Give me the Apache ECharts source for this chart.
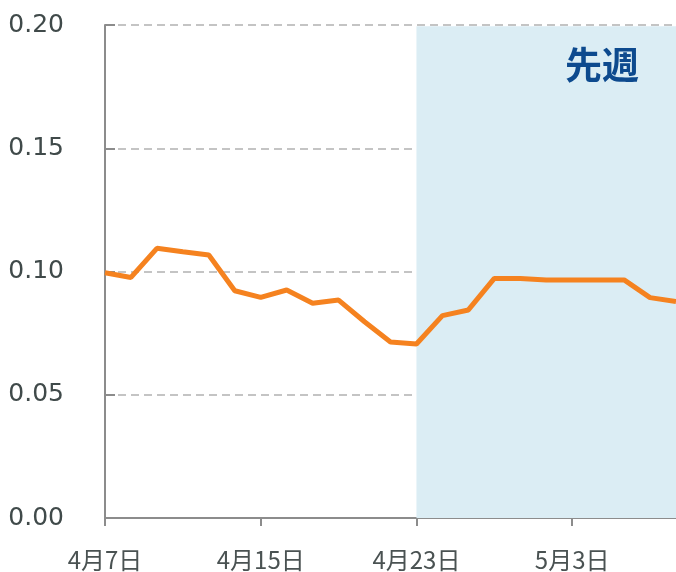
<!DOCTYPE html>
<html>
<head>
<meta charset="utf-8">
<script src="https://cdn.jsdelivr.net/npm/echarts@6/dist/echarts.min.js"></script>
<style>
html,body{margin:0;padding:0;background:#fff;}
#chart{width:676px;height:572px;}
</style>
</head>
<body>
<div id="chart"></div>
<script>
const categories = ['4月7日','4月8日','4月9日','4月10日','4月11日','4月14日','4月15日','4月16日','4月17日','4月18日','4月21日','4月22日','4月23日','4月24日','4月25日','4月28日','4月30日','5月1日','5月3日','5月6日','5月7日','5月8日','5月9日'];
const values = [0.0995,0.0976,0.1094,0.1080,0.1067,0.0922,0.0895,0.0925,0.0871,0.0884,0.0796,0.0714,0.0706,0.0821,0.0844,0.0972,0.0972,0.0966,0.0966,0.0966,0.0966,0.0894,0.0878];
const yTicks = {min: 0, max: 0.20, interval: 0.05};
const shadeLabel = '先週';
const shadeStart = '4月23日';

const chart = echarts.init(document.getElementById('chart'), null, {renderer: 'canvas'});
chart.setOption({
  animation: false,
  backgroundColor: '#ffffff',
  grid: {left: 105, top: 25, bottom: 54, width: 572, containLabel: false},
  xAxis: {
    type: 'category',
    data: categories,
    boundaryGap: false,
    axisLine: {lineStyle: {color: '#8c8c8c', width: 2}},
    axisTick: {show: true, interval: 5, length: 8, lineStyle: {color: '#8c8c8c', width: 2}},
    axisLabel: {interval: 5, margin: 30, color: '#4a5252', fontSize: 24, fontFamily: 'Noto Sans CJK JP'},
    splitLine: {show: false}
  },
  yAxis: {
    type: 'value',
    min: yTicks.min, max: yTicks.max, interval: yTicks.interval,
    axisLine: {show: true, lineStyle: {color: '#8c8c8c', width: 2}},
    axisTick: {show: true, inside: true, length: 10, lineStyle: {color: '#8c8c8c', width: 2}},
    axisLabel: {margin: 41, color: '#404a4a', fontSize: 25, fontFamily: 'DejaVu Sans', formatter: v => v.toFixed(2)},
    splitLine: {show: true, lineStyle: {color: '#c4c4c4', width: 2, type: [8, 5]}}
  },
  series: [{
    type: 'line',
    data: values,
    showSymbol: false,
    symbol: 'none',
    lineStyle: {color: '#f5821f', width: 5},
    itemStyle: {color: '#f5821f'},
    z: 3,
    markArea: {
      silent: true,
      itemStyle: {color: '#dbedf4'},
      label: {show: false},
      data: [[{xAxis: shadeStart, yAxis: 0}, {xAxis: categories[categories.length - 1], yAxis: 0.1995}]]
    }
  }],
  graphic: [{
    type: 'text',
    left: 565, top: 46,
    z: 100,
    style: {text: shadeLabel, fill: '#0d4a8e', fontSize: 37, fontWeight: 'bold', fontFamily: 'Noto Sans CJK JP'}
  }]
});
</script>
</body>
</html>
